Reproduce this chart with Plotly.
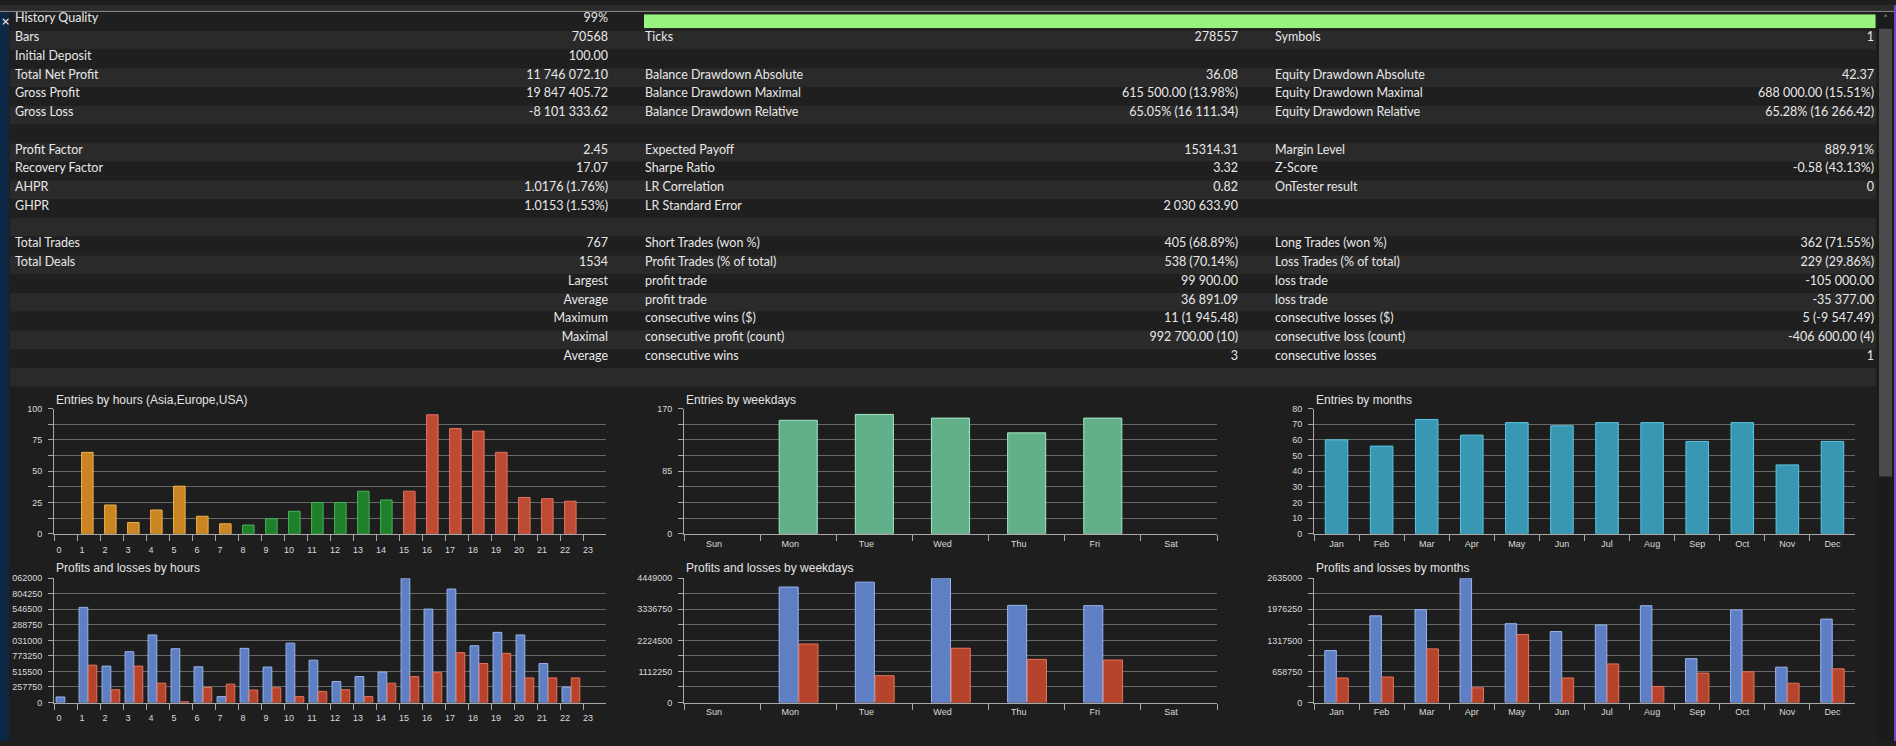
import plotly.graph_objects as go

W, H = 1896, 746

# ---- summary table: 20 rows, three label/value column pairs ----
history_quality = 99

labels_1 = ["History Quality", "Bars", "Initial Deposit", "Total Net Profit", "Gross Profit", "Gross Loss", "",
            "Profit Factor", "Recovery Factor", "AHPR", "GHPR", "",
            "Total Trades", "Total Deals", "", "", "", "", "", ""]
values_1 = ["99%", "70568", "100.00", "11 746 072.10", "19 847 405.72", "-8 101 333.62", "",
            "2.45", "17.07", "1.0176 (1.76%)", "1.0153 (1.53%)", "",
            "767", "1534", "Largest", "Average", "Maximum", "Maximal", "Average", ""]
labels_2 = ["", "Ticks", "", "Balance Drawdown Absolute", "Balance Drawdown Maximal", "Balance Drawdown Relative", "",
            "Expected Payoff", "Sharpe Ratio", "LR Correlation", "LR Standard Error", "",
            "Short Trades (won %)", "Profit Trades (% of total)", "profit trade", "profit trade",
            "consecutive wins ($)", "consecutive profit (count)", "consecutive wins", ""]
values_2 = ["", "278557", "", "36.08", "615 500.00 (13.98%)", "65.05% (16 111.34)", "",
            "15314.31", "3.32", "0.82", "2 030 633.90", "",
            "405 (68.89%)", "538 (70.14%)", "99 900.00", "36 891.09",
            "11 (1 945.48)", "992 700.00 (10)", "3", ""]
labels_3 = ["", "Symbols", "", "Equity Drawdown Absolute", "Equity Drawdown Maximal", "Equity Drawdown Relative", "",
            "Margin Level", "Z-Score", "OnTester result", "", "",
            "Long Trades (won %)", "Loss Trades (% of total)", "loss trade", "loss trade",
            "consecutive losses ($)", "consecutive loss (count)", "consecutive losses", ""]
values_3 = ["", "1", "", "42.37", "688 000.00 (15.51%)", "65.28% (16 266.42)", "",
            "889.91%", "-0.58 (43.13%)", "0", "", "",
            "362 (71.55%)", "229 (29.86%)", "-105 000.00", "-35 377.00",
            "5 (-9 547.49)", "-406 600.00 (4)", "1", ""]

# ---- charts ----
hours = list(range(24))
hour_labels = [str(h) for h in hours]
hour_region = ["Asia"] * 8 + ["Europe"] * 7 + ["USA"] * 9
hour_entries = [0, 65, 23, 9, 19, 38, 14, 8, 7, 12, 18, 25, 25, 34, 27, 34, 95, 84, 82, 65, 29, 28, 26, 0]
hour_profits = [92000, 1578000, 604000, 843000, 1121000, 892000, 593000, 98000, 898000, 588000,
                985000, 702000, 348000, 430000, 506000, 2062000, 1550000, 1882000, 941000, 1164000,
                1121000, 647000, 256000, 0]
hour_losses = [0, 620000, 212000, 604000, 321000, 11000, 250000, 305000, 207000, 245000,
               98000, 185000, 212000, 98000, 321000, 430000, 495000, 827000, 647000, 816000,
               408000, 408000, 408000, 0]

weekdays = ["Sun", "Mon", "Tue", "Wed", "Thu", "Fri", "Sat"]
weekday_entries = [0, 154, 162, 157, 137, 157, 0]
weekday_profits = [0, 4133000, 4308000, 4449000, 3477000, 3466000, 0]
weekday_losses = [0, 2096000, 960000, 1943000, 1545000, 1522000, 0]

months = ["Jan", "Feb", "Mar", "Apr", "May", "Jun", "Jul", "Aug", "Sep", "Oct", "Nov", "Dec"]
month_entries = [60, 56, 73, 63, 71, 69, 71, 71, 59, 71, 44, 59]
month_profits = [1102000, 1837000, 1969000, 2635000, 1671000, 1505000, 1643000, 2052000,
                 929000, 1962000, 749000, 1768000]
month_losses = [520000, 541000, 1137000, 312000, 1442000, 520000, 818000, 340000,
                624000, 652000, 409000, 714000]

BG = "#1e1e1e"
ROW_DARK, ROW_LIGHT = "#1f1f1f", "#2a2a2a"
TXT = "#e8e8e8"
GRID = "#686868"
AXIS = "#a8a8a8"
region_fill = {"Asia": "#c98522", "Europe": "#1f7f2b", "USA": "#bd4a33"}
region_edge = {"Asia": "#f0b248", "Europe": "#48b555", "USA": "#e6735f"}
PROFIT_FILL, PROFIT_EDGE = "#5f7fc4", "#9ab4ec"
LOSS_FILL, LOSS_EDGE = "#b6432b", "#e6735a"


def px(x):
    return x / W


def py(y):
    return 1 - y / H


def edge(values):
    # no outline on empty bars
    return [1 if v else 0 for v in values]


fig = go.Figure()

# table: alternating row bands (x7/y7) + text columns (x7/y9, nudged up a touch)
rows = list(range(len(labels_1)))
row_colors = [ROW_LIGHT if i % 2 else ROW_DARK for i in rows]
fig.add_trace(go.Bar(y=rows, x=[1866] * len(rows), base=10, orientation="h", width=1,
                     marker=dict(color=row_colors, line=dict(width=0)),
                     xaxis="x7", yaxis="y7", hoverinfo="skip"))
tfont = dict(family="Lato, Noto Sans, sans-serif", size=12.5, color=TXT)
columns = [(labels_1, 15, "middle right"), (values_1, 608, "middle left"),
           (labels_2, 645, "middle right"), (values_2, 1238, "middle left"),
           (labels_3, 1275, "middle right"), (values_3, 1874, "middle left")]
for texts, xpos, pos in columns:
    fig.add_trace(go.Scatter(x=[xpos] * len(rows), y=rows, text=texts, mode="text",
                             textposition=pos, textfont=tfont, cliponaxis=False,
                             xaxis="x7", yaxis="y9", hoverinfo="skip"))

# history quality bar in the first row
fig.add_trace(go.Bar(x=[history_quality], y=[0], orientation="h", width=1,
                     marker=dict(color="#99f47f", line=dict(width=0)),
                     xaxis="x8", yaxis="y8", hoverinfo="skip"))

# entries by hours
fig.add_trace(go.Bar(x=hours, y=hour_entries, offset=0.2, width=0.5,
                     marker=dict(color=[region_fill[r] for r in hour_region],
                                 line=dict(color=[region_edge[r] for r in hour_region],
                                           width=edge(hour_entries))),
                     xaxis="x", yaxis="y"))
# entries by weekdays
fig.add_trace(go.Bar(x=weekdays, y=weekday_entries, width=0.5,
                     marker=dict(color="#62b089", line=dict(color="#a6e6c4", width=edge(weekday_entries))),
                     xaxis="x2", yaxis="y2"))
# entries by months
fig.add_trace(go.Bar(x=months, y=month_entries, width=0.5,
                     marker=dict(color="#3898b4", line=dict(color="#5cc6e2", width=edge(month_entries))),
                     xaxis="x3", yaxis="y3"))
# profits and losses by hours
fig.add_trace(go.Bar(x=hours, y=hour_profits, offset=0.09, width=0.38,
                     marker=dict(color=PROFIT_FILL, line=dict(color=PROFIT_EDGE, width=edge(hour_profits))),
                     xaxis="x4", yaxis="y4"))
fig.add_trace(go.Bar(x=hours, y=hour_losses, offset=0.49, width=0.37,
                     marker=dict(color=LOSS_FILL, line=dict(color=LOSS_EDGE, width=edge(hour_losses))),
                     xaxis="x4", yaxis="y4"))
# profits and losses by weekdays
fig.add_trace(go.Bar(x=weekdays, y=weekday_profits, offset=-0.25, width=0.25,
                     marker=dict(color=PROFIT_FILL, line=dict(color=PROFIT_EDGE, width=edge(weekday_profits))),
                     xaxis="x5", yaxis="y5"))
fig.add_trace(go.Bar(x=weekdays, y=weekday_losses, offset=0.01, width=0.25,
                     marker=dict(color=LOSS_FILL, line=dict(color=LOSS_EDGE, width=edge(weekday_losses))),
                     xaxis="x5", yaxis="y5"))
# profits and losses by months
fig.add_trace(go.Bar(x=months, y=month_profits, offset=-0.26, width=0.255,
                     marker=dict(color=PROFIT_FILL, line=dict(color=PROFIT_EDGE, width=1)),
                     xaxis="x6", yaxis="y6"))
fig.add_trace(go.Bar(x=months, y=month_losses, offset=0.005, width=0.255,
                     marker=dict(color=LOSS_FILL, line=dict(color=LOSS_EDGE, width=1)),
                     xaxis="x6", yaxis="y6"))

tickfont = dict(family="Liberation Sans, Arial, sans-serif", size=9, color="#dadada")
base_x = dict(showline=True, linecolor=AXIS, linewidth=1, showgrid=False, zeroline=False,
              ticks="outside", ticklen=6, tickcolor=AXIS, tickfont=tickfont,
              ticklabelstandoff=1, fixedrange=True)
base_y = dict(showline=True, linecolor=AXIS, linewidth=1, showgrid=True, gridcolor=GRID, gridwidth=1,
              zeroline=False, ticks="outside", ticklen=5, tickcolor=AXIS, tickfont=tickfont,
              ticklabelstandoff=4, tickformat="d", fixedrange=True)


def yax(top, bottom, rng, dtick, minor=None):
    d = dict(base_y, domain=[py(bottom), py(top)], range=rng, tick0=0, dtick=dtick)
    if minor:
        d["minor"] = dict(dtick=minor, tick0=0, showgrid=True, gridcolor=GRID, gridwidth=1,
                          ticks="outside", ticklen=5, tickcolor=AXIS)
    return d


hour_x = dict(base_x, range=[0, 24], tickmode="array", tickvals=hours, ticktext=hour_labels,
              ticklabelshift=5)
cat_x = dict(base_x, tickson="boundaries")
hidden = dict(visible=False, fixedrange=True, showgrid=False, zeroline=False)
row_range = [len(rows) - 0.5, -0.5]

fig.update_layout(
    width=W, height=H, margin=dict(l=0, r=0, t=0, b=0),
    paper_bgcolor=BG, plot_bgcolor="rgba(0,0,0,0)",
    showlegend=False, barmode="overlay", hovermode=False,
    xaxis=dict(hour_x, domain=[px(54), px(606)], anchor="y"),
    yaxis=yax(409, 536, [0, 100], 25, 12.5) | dict(anchor="x"),
    xaxis2=dict(cat_x, domain=[px(684), px(1217)], anchor="y2", ticklabelshift=-8),
    yaxis2=yax(409, 536, [0, 170], 85, 21.25) | dict(anchor="x2"),
    xaxis3=dict(cat_x, domain=[px(1314), px(1855)], anchor="y3"),
    yaxis3=yax(409, 536, [0, 80], 10) | dict(anchor="x3"),
    xaxis4=dict(hour_x, domain=[px(54), px(606)], anchor="y4"),
    yaxis4=yax(581, 707, [0, 2062000], 257750) | dict(anchor="x4"),
    xaxis5=dict(cat_x, domain=[px(684), px(1217)], anchor="y5", ticklabelshift=-8),
    yaxis5=yax(581, 707, [0, 4449000], 1112250, 556125) | dict(anchor="x5"),
    xaxis6=dict(cat_x, domain=[px(1314), px(1855)], anchor="y6"),
    yaxis6=yax(581, 707, [0, 2635000], 658750, 329375) | dict(anchor="x6"),
    xaxis7=dict(hidden, domain=[0, 1], range=[0, W], anchor="y7"),
    yaxis7=dict(hidden, domain=[py(387), py(7)], range=row_range, anchor="x7"),
    yaxis9=dict(hidden, domain=[py(385), py(5)], range=row_range, anchor="x7"),
    xaxis8=dict(hidden, domain=[px(644), px(1888)], range=[0, 100], anchor="y8"),
    yaxis8=dict(hidden, domain=[py(23.5), py(9.5)], range=[-0.5, 0.5], anchor="x8"),
)

titles = [("Entries by hours (Asia,Europe,USA)", 54, 400), ("Entries by weekdays", 684, 400),
          ("Entries by months", 1314, 400), ("Profits and losses by hours", 54, 571),
          ("Profits and losses by weekdays", 684, 571), ("Profits and losses by months", 1314, 571)]
for text, x0, y0 in titles:
    fig.add_annotation(text=text, x=px(x0), y=py(y0), xref="paper", yref="paper",
                       xanchor="left", yanchor="middle", showarrow=False,
                       font=dict(family="Liberation Sans, Arial, sans-serif", size=12, color="#e4e4e4"))

# window chrome: top strip, left panel strip (clips the long tick labels), scrollbar
fig.add_shape(type="rect", xref="paper", yref="paper", x0=0, x1=1, y0=py(6), y1=1,
              fillcolor="#2b2b2b", line=dict(width=0), layer="above")
fig.add_shape(type="line", xref="paper", yref="paper", x0=0, x1=1, y0=py(6.5), y1=py(6.5),
              line=dict(color="#8c8c8c", width=1), layer="above")
fig.add_shape(type="rect", xref="paper", yref="paper", x0=px(9), x1=px(12), y0=0, y1=py(390),
              fillcolor=BG, line=dict(width=0), layer="above")
fig.add_shape(type="rect", xref="paper", yref="paper", x0=0, x1=px(9), y0=0, y1=py(7),
              fillcolor="#0c2845", line=dict(width=0), layer="above")
fig.add_shape(type="rect", xref="paper", yref="paper", x0=px(1877), x1=px(1894), y0=0, y1=py(7),
              fillcolor="#1b1b1b", line=dict(width=0), layer="above")
fig.add_shape(type="rect", xref="paper", yref="paper", x0=px(1879), x1=px(1892), y0=py(478), y1=py(24),
              fillcolor="#4b4b4b", line=dict(width=0), layer="above")
fig.add_shape(type="line", xref="paper", yref="paper", x0=px(1895), x1=px(1895), y0=0, y1=1,
              line=dict(color="#7b3fd0", width=2), layer="above")
fig.add_annotation(text="×", x=px(5), y=py(16.5), xref="paper", yref="paper", showarrow=False,
                   xanchor="center", yanchor="middle",
                   font=dict(family="DejaVu Sans", size=11, color="#ffffff"))
fig.add_annotation(text="˄", x=px(1885.5), y=py(15), xref="paper", yref="paper", showarrow=False,
                   xanchor="center", yanchor="middle",
                   font=dict(family="DejaVu Sans", size=10, color="#9a9a9a"))

# the page body has a default 8px margin; drop it so the figure fills the window
fig.write_html("out.html", config={"displayModeBar": False},
               post_script="document.body.style.margin='0';")
